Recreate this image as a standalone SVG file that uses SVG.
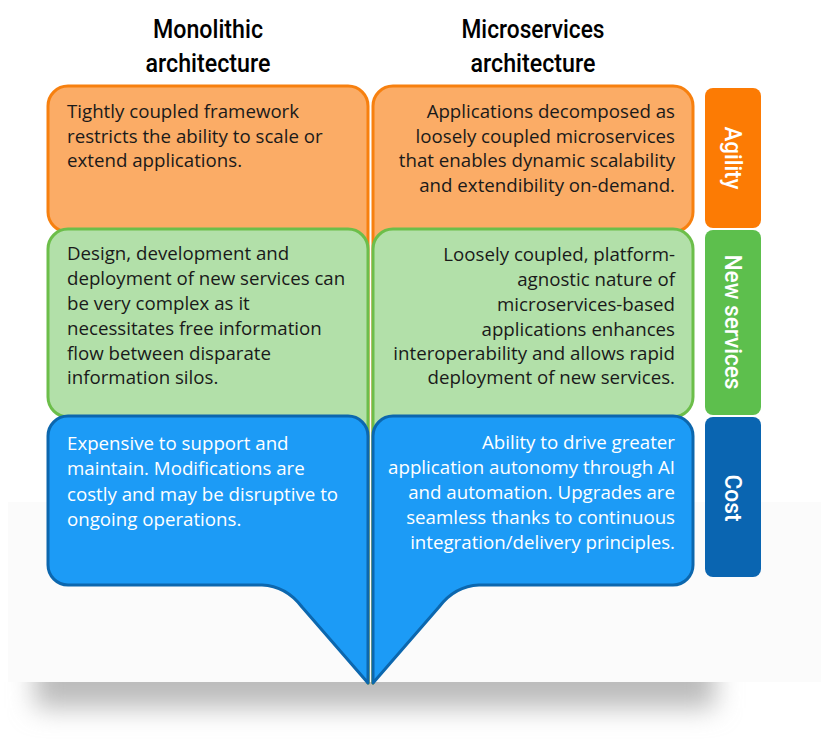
<svg xmlns="http://www.w3.org/2000/svg" width="821" height="742" viewBox="0 0 821 742">
  <defs>
    <filter id="blur" x="-20%" y="-50%" width="140%" height="200%">
      <feGaussianBlur stdDeviation="13"/>
    </filter>
    <clipPath id="belowCard">
      <rect x="0" y="682" width="821" height="60"/>
    </clipPath>
    <style>
      .or { fill: #FBAC66; stroke: #F7800F; stroke-width: 3; stroke-linejoin: round; }
      .gr { fill: #B2E0A9; stroke: #6CBE4A; stroke-width: 3; stroke-linejoin: round; }
      .bl { fill: #1C9BF6; stroke: #0C67AE; stroke-width: 3; stroke-linejoin: round; }
      .body { font-family: "Open Sans", "Noto Sans", "Liberation Sans", sans-serif; font-size: 18.7px; fill: #1a1a1a; }
      .white { fill: #ffffff; }
      .end { text-anchor: end; }
      .head { font-family: "Liberation Sans Narrow", "Roboto", "Liberation Sans", sans-serif; font-weight: 500; font-size: 25px; fill: #000000; text-anchor: middle; }
      .tab { font-family: "Liberation Sans Narrow", "Roboto", "Liberation Sans", sans-serif; font-weight: 500; font-size: 23px; fill: #ffffff; text-anchor: middle; }
    </style>
  </defs>

  <rect x="0" y="0" width="821" height="742" fill="#ffffff"/>
  <rect x="8" y="502" width="813" height="180" fill="#fbfbfb"/>
  <g clip-path="url(#belowCard)">
    <rect x="35" y="640" width="680" height="68" fill="#bcbcbc" filter="url(#blur)"/>
  </g>

  <g id="connectors"/>

  <!-- Orange layer -->
  <g id="mono-agility">
    <path class="or" d="M48,106 A20,20 0 0 1 68,86 L348,86 A20,20 0 0 1 368,106 L368,683 L262,232 L68,232 A20,20 0 0 1 48,212 Z"/>
  </g>
  <g id="micro-agility">
    <path class="or" d="M373,106 A20,20 0 0 1 393,86 L673,86 A20,20 0 0 1 693,106 L693,212 A20,20 0 0 1 673,232 L479,232 L373,683 Z"/>
  </g>

  <!-- Green layer -->
  <g id="mono-newservices">
    <path class="gr" d="M48,249 A20,20 0 0 1 68,229 L348,229 A20,20 0 0 1 368,249 L368,683 L262,417 L68,417 A20,20 0 0 1 48,397 Z"/>
  </g>
  <g id="micro-newservices">
    <path class="gr" d="M373,249 A20,20 0 0 1 393,229 L673,229 A20,20 0 0 1 693,249 L693,397 A20,20 0 0 1 673,417 L479,417 L373,683 Z"/>
  </g>

  <!-- Blue layer -->
  <g id="mono-cost">
    <path class="bl" d="M48,436 A20,20 0 0 1 68,416 L348,416 A20,20 0 0 1 368,436 L368,683 L302,607 Q286,586 262,585 L68,585 A20,20 0 0 1 48,565 Z"/>
  </g>
  <g id="micro-cost">
    <path class="bl" d="M373,436 A20,20 0 0 1 393,416 L673,416 A20,20 0 0 1 693,436 L693,565 A20,20 0 0 1 673,585 L479,585 Q455,586 439,607 L373,683 Z"/>
  </g>

  <!-- Texts: orange -->
  <g id="mono-agility-text" class="body">
    <text x="67" y="118">Tightly coupled framework</text>
    <text x="67" y="143">restricts the ability to scale or</text>
    <text x="67" y="167">extend applications.</text>
  </g>
  <g id="micro-agility-text" class="body end">
    <text x="675" y="118">Applications decomposed as</text>
    <text x="675" y="143">loosely coupled microservices</text>
    <text x="675" y="167">that enables dynamic scalability</text>
    <text x="675" y="192">and extendibility on-demand.</text>
  </g>

  <!-- Texts: green -->
  <g id="mono-newservices-text" class="body">
    <text x="67" y="260">Design, development and</text>
    <text x="67" y="285">deployment of new services can</text>
    <text x="67" y="310">be very complex as it</text>
    <text x="67" y="335">necessitates free information</text>
    <text x="67" y="360">flow between disparate</text>
    <text x="67" y="384">information silos.</text>
  </g>
  <g id="micro-newservices-text" class="body end">
    <text x="675" y="261">Loosely coupled, platform-</text>
    <text x="675" y="286">agnostic nature of</text>
    <text x="675" y="311">microservices-based</text>
    <text x="675" y="336">applications enhances</text>
    <text x="675" y="360">interoperability and allows rapid</text>
    <text x="675" y="384">deployment of new services.</text>
  </g>

  <!-- Texts: blue -->
  <g id="mono-cost-text" class="body">
    <text x="67" y="450" class="white">Expensive to support and</text>
    <text x="67" y="475" class="white">maintain. Modifications are</text>
    <text x="67" y="501" class="white">costly and may be disruptive to</text>
    <text x="67" y="526" class="white">ongoing operations.</text>
  </g>
  <g id="micro-cost-text" class="body end">
    <text x="675" y="449" class="white">Ability to drive greater</text>
    <text x="675" y="474" class="white">application autonomy through AI</text>
    <text x="675" y="499" class="white">and automation. Upgrades are</text>
    <text x="675" y="524" class="white">seamless thanks to continuous</text>
    <text x="675" y="549" class="white">integration/delivery principles.</text>
  </g>

  <!-- Headers -->
  <g id="header-monolithic" class="head">
    <text x="208" y="38" textLength="110" lengthAdjust="spacingAndGlyphs">Monolithic</text>
    <text x="208" y="72" textLength="125" lengthAdjust="spacingAndGlyphs">architecture</text>
  </g>
  <g id="header-microservices" class="head">
    <text x="533" y="38" textLength="143" lengthAdjust="spacingAndGlyphs">Microservices</text>
    <text x="533" y="72" textLength="125" lengthAdjust="spacingAndGlyphs">architecture</text>
  </g>

  <!-- Side tabs -->
  <g id="tab-agility">
    <rect x="705" y="88" width="56" height="140" rx="8" fill="#FC7B04"/>
    <text class="tab" transform="translate(733,158) rotate(90)" x="0" y="8" textLength="63" lengthAdjust="spacingAndGlyphs">Agility</text>
  </g>
  <g id="tab-newservices">
    <rect x="705" y="230" width="56" height="185" rx="8" fill="#5DBF4D"/>
    <text class="tab" transform="translate(733,322) rotate(90)" x="0" y="8" textLength="135" lengthAdjust="spacingAndGlyphs">New services</text>
  </g>
  <g id="tab-cost">
    <rect x="705" y="417" width="56" height="160" rx="8" fill="#0A65B1"/>
    <text class="tab" transform="translate(733,498) rotate(90)" x="0" y="8" textLength="47" lengthAdjust="spacingAndGlyphs">Cost</text>
  </g>
</svg>
